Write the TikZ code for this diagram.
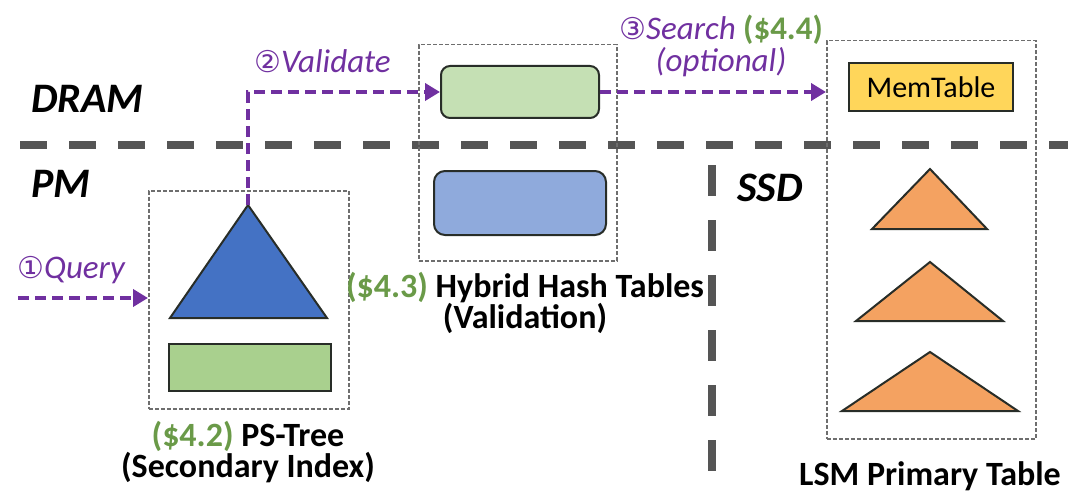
\documentclass[tikz,border=0pt]{standalone}
\usepackage{fontspec}
\setmainfont{Carlito}
\newfontfamily\circfont{DejaVu Sans}
\usetikzlibrary{arrows.meta}

\definecolor{flowc}{RGB}{112,48,160}
\definecolor{secgreen}{RGB}{106,154,72}
\definecolor{divgray}{RGB}{85,85,85}
\definecolor{boxgray}{RGB}{110,110,110}
\definecolor{edgec}{RGB}{40,45,40}
\definecolor{treeblue}{RGB}{68,114,196}
\definecolor{tblblue}{RGB}{143,170,220}
\definecolor{leafgreen}{RGB}{169,208,142}
\definecolor{hashgreen}{RGB}{197,224,180}
\definecolor{memyellow}{RGB}{255,214,90}
\definecolor{lsmorange}{RGB}{244,162,97}

\newcommand{\circnum}[1]{{\circfont\fontsize{30}{30}\selectfont #1}}

\tikzset{
  lane/.style={font=\fontsize{42}{46}\selectfont\bfseries\itshape, anchor=west, inner sep=0pt},
  steplbl/.style={text=flowc, font=\fontsize{33}{32}\selectfont\itshape, inner sep=0pt, align=center},
  caption/.style={font=\fontsize{34}{31}\selectfont\bfseries, align=center, inner sep=0pt},
  region/.style={draw=boxgray, dash pattern=on 4pt off 2pt, line width=1.5pt, inner sep=0pt, anchor=north west},
  divider/.style={draw=divgray, line width=8pt},
  flow/.style={draw=flowc, line width=4pt, dash pattern=on 11pt off 6pt,
    -{Triangle[length=15pt,width=17pt]}},
  part/.style={draw=edgec, line width=2pt, inner sep=0pt, anchor=north west},
  tree/.style={draw=edgec, line width=2pt, line join=miter},
}

\begin{document}
\begin{tikzpicture}[x=1pt,y=-1pt]
\useasboundingbox (0,0) rectangle (1068,492);

% memory tier dividers
\draw[divider, dash pattern=on 27pt off 22pt] (20,145) -- (1068,145);
\draw[divider, dash pattern=on 31pt off 24pt] (712,165) -- (712,492);

% tier names
\node[lane] (dram) at (31,99) {DRAM};
\node[lane] (pm) at (31,184) {PM};
\node[lane] (ssd) at (737,188) {SSD};

% PS-Tree (secondary index)
\node[region, minimum width=200pt, minimum height=218pt] (psbox) at (148,190) {};
\coordinate (psapex) at (248,205);
\draw[tree, fill=treeblue] (psapex) -- (327,318) -- (170,318) -- cycle;
\node[part, fill=leafgreen, minimum width=162pt, minimum height=47pt] (psleaf) at (168,343) {};
\node[caption] (pscap) at (248,452) {{\color{secgreen}(\$4.2)} PS-Tree\\(Secondary Index)};

% hybrid hash tables (validation)
\node[region, minimum width=198pt, minimum height=216pt] (hashbox) at (418,44) {};
\node[part, fill=hashgreen, rounded corners=9pt, minimum width=158pt, minimum height=52pt] (hashdram) at (440,65) {};
\node[part, fill=tblblue, rounded corners=11pt, minimum width=172pt, minimum height=64pt] (hashpm) at (433,170) {};
\node[caption] (hashcap) at (525,303) {{\color{secgreen}(\$4.3)} Hybrid Hash Tables\\(Validation)};

% LSM primary table
\node[region, minimum width=209pt, minimum height=398pt] (lsmbox) at (826,40) {};
\node[part, fill=memyellow, minimum width=164pt, minimum height=48pt] (memtbl) at (848,62) {};
\node[font=\fontsize{30}{32}\selectfont, inner sep=0pt] (memtxt) at (memtbl.center) {MemTable};
\draw[tree, fill=lsmorange] (930,169) -- (987,229) -- (872,229) -- cycle;
\draw[tree, fill=lsmorange] (930,262) -- (1003,321) -- (856,321) -- cycle;
\draw[tree, fill=lsmorange] (930,352) -- (1018,411) -- (842,411) -- cycle;
\node[caption] (lsmcap) at (930,476) {LSM Primary Table};

% request flow
\coordinate (qstart) at (18,298);
\coordinate (qend) at (psbox.west |- qstart);
\draw[flow] (qstart) -- (qend);
\node[steplbl, anchor=west] (qlbl) at (17,270) {\circnum{①}Query};

\draw[flow] (psapex) |- (hashdram.west);
\node[steplbl, anchor=west] (vlbl) at (254,61) {\circnum{②}Validate};

\draw[flow] (hashdram.east) -- (lsmbox.west |- hashdram.east);
\node[steplbl] (slbl) at (721,46) {\circnum{③}Search {\upshape\bfseries\color{secgreen}(\$4.4)}\\(optional)};
\end{tikzpicture}
\end{document}
